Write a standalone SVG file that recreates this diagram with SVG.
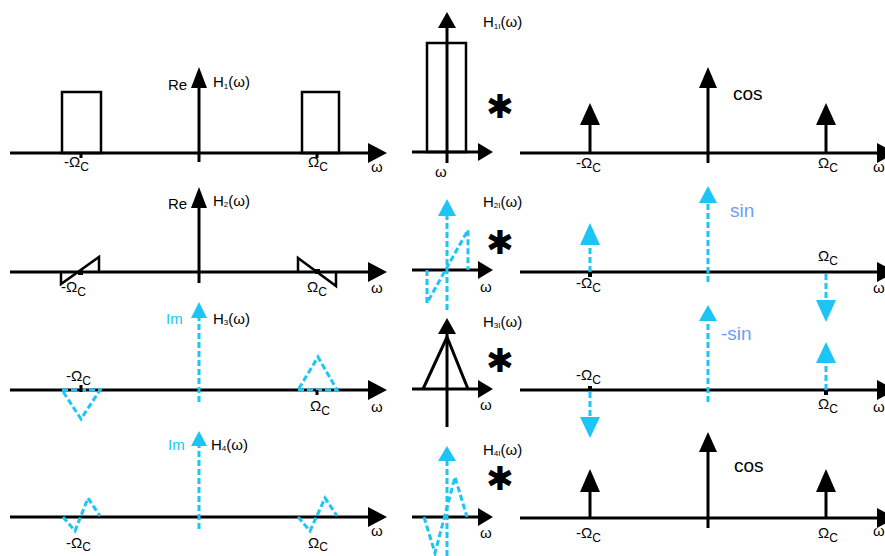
<svg xmlns="http://www.w3.org/2000/svg" width="885" height="556" viewBox="0 0 885 556">
<style>
text{font-family:"Liberation Sans",Arial,sans-serif;fill:#000}
.ax{stroke:#000;stroke-width:3;fill:none}
.bk{fill:#000}
.cy{fill:#1CC5F5}
.dl{stroke:#1CC5F5;stroke-width:3;fill:none;stroke-dasharray:6 3}
.sh{stroke:#000;stroke-width:2.5;fill:none}
.lb{font-size:15px}
.om{font-size:15px}
.sub{font-size:12px}
.w{font-size:15px}
.ast{font-family:"DejaVu Sans",sans-serif;font-size:33px;text-anchor:middle;dominant-baseline:central}
.tr{font-size:19px}
.bl{fill:#6E9EF5}
.ci{fill:#1CC5F5}
</style>
<rect width="885" height="556" fill="#fff"/>

<!-- LEFT COLUMN -->
<g id="H1">
<line class="ax" x1="10" y1="153" x2="372" y2="153"/>
<polygon class="bk" points="368,143 387,153 368,163"/>
<line class="ax" x1="199" y1="162" x2="199" y2="85"/>
<polygon class="bk" points="191,88 199,67 207,88"/>
<rect class="sh" x="62" y="92" width="39" height="61"/>
<rect class="sh" x="302" y="92" width="37" height="61"/>
<line class="ax" x1="81" y1="153" x2="81" y2="158"/>
<line class="ax" x1="317" y1="153" x2="317" y2="158"/>
<text class="lb" x="168" y="90">Re</text>
<text class="lb" x="213" y="87">H<tspan font-size="8" dy="2">1</tspan><tspan dy="-2">(ω)</tspan></text>
<text class="om" x="64" y="167">-Ω<tspan class="sub" dy="4">C</tspan></text>
<text class="om" x="308" y="167">Ω<tspan class="sub" dy="4">C</tspan></text>
<text class="w" x="371" y="172">ω</text>
</g>

<g id="H2">
<line class="ax" x1="10" y1="272" x2="372" y2="272"/>
<polygon class="bk" points="368,262 387,272 368,282"/>
<line class="ax" x1="199" y1="283" x2="199" y2="205"/>
<polygon class="bk" points="191,208 199,187 207,208"/>
<polyline class="sh" points="61,272 61,284 99,257 99,272"/>
<polyline class="sh" points="298,272 298,258 336,286 336,272"/>
<rect class="bk" x="78" y="270" width="5" height="5"/>
<rect class="bk" x="315" y="269" width="5" height="5"/>
<text class="lb" x="168" y="209">Re</text>
<text class="lb" x="213" y="206">H<tspan font-size="8" dy="1">2</tspan><tspan dy="-1">(ω)</tspan></text>
<text class="om" x="61" y="292">-Ω<tspan class="sub" dy="4">C</tspan></text>
<text class="om" x="307" y="292">Ω<tspan class="sub" dy="4">C</tspan></text>
<text class="w" x="371" y="293">ω</text>
</g>

<g id="H3">
<line class="ax" x1="10" y1="390" x2="372" y2="390"/>
<polygon class="bk" points="368,380 387,390 368,400"/>
<line class="dl" x1="199" y1="402" x2="199" y2="316"/>
<polygon class="cy" points="191,318 199,302 207,318"/>
<polygon class="dl" points="62,390 100,390 81,419"/>
<polygon class="dl" points="298,390 337,390 318,357"/>
<line class="ax" x1="81" y1="385" x2="81" y2="392" stroke-width="2"/>
<line class="ax" x1="317" y1="390" x2="317" y2="395" stroke-width="2"/>
<text class="lb ci" x="166" y="324">Im</text>
<text class="lb" x="213" y="324">H<tspan font-size="8" dy="1">3</tspan><tspan dy="-1">(ω)</tspan></text>
<text class="om" x="66" y="381">-Ω<tspan class="sub" dy="4">C</tspan></text>
<text class="om" x="310" y="411">Ω<tspan class="sub" dy="4">C</tspan></text>
<text class="w" x="371" y="412">ω</text>
</g>

<g id="H4">
<line class="ax" x1="10" y1="517" x2="372" y2="517"/>
<polygon class="bk" points="368,507 387,517 368,527"/>
<line class="dl" x1="199" y1="529" x2="199" y2="444"/>
<polygon class="cy" points="191,446 199,431 207,446"/>
<polyline class="dl" points="63,517 75,531 88,498 100,516"/>
<polyline class="dl" points="298,517 310,531 325,498 337,516"/>
<text class="lb ci" x="168" y="450">Im</text>
<text class="lb" x="211" y="450">H<tspan font-size="8" dy="1">4</tspan><tspan dy="-1">(ω)</tspan></text>
<text class="om" x="66" y="548">-Ω<tspan class="sub" dy="3">C</tspan></text>
<text class="om" x="308" y="548">Ω<tspan class="sub" dy="3">C</tspan></text>
<text class="w" x="371" y="536">ω</text>
</g>

<!-- MIDDLE COLUMN -->
<g id="H1I">
<line class="ax" x1="412" y1="152" x2="482" y2="152"/>
<polygon class="bk" points="478,143 493,152 478,161"/>
<line class="ax" x1="447" y1="163" x2="447" y2="26"/>
<polygon class="bk" points="438,28 447,12 456,28"/>
<rect class="sh" x="427" y="43" width="39" height="109"/>
<text class="lb" x="483" y="27">H<tspan font-size="8" dy="2">1I</tspan><tspan dy="-2">(ω)</tspan></text>
<text class="om" x="435" y="177">ω</text>
<text class="ast" x="500" y="106">✱</text>
</g>

<g id="H2I">
<line class="ax" x1="412" y1="270" x2="482" y2="270"/>
<polygon class="bk" points="478,261 493,270 478,279"/>
<line class="dl" x1="447" y1="310" x2="447" y2="214"/>
<polygon class="cy" points="438,216 447,199 456,216"/>
<polyline class="dl" points="427,270 427,303 468,230 468,270"/>
<text class="lb" x="483" y="207">H<tspan font-size="8" dy="1">2I</tspan><tspan dy="-1">(ω)</tspan></text>
<text class="om" x="480" y="292">ω</text>
<text class="ast" x="500" y="242">✱</text>
</g>

<g id="H3I">
<line class="ax" x1="412" y1="389" x2="482" y2="389"/>
<polygon class="bk" points="478,380 493,389 478,398"/>
<line class="ax" x1="447" y1="427" x2="447" y2="332"/>
<polygon class="bk" points="438,334 447,318 456,334"/>
<polyline class="ax" points="423,389 447,337 468,389"/>
<text class="lb" x="483" y="327">H<tspan font-size="8" dy="1">3I</tspan><tspan dy="-1">(ω)</tspan></text>
<text class="om" x="480" y="410">ω</text>
<text class="ast" x="500" y="360">✱</text>
</g>

<g id="H4I">
<line class="ax" x1="412" y1="517" x2="482" y2="517"/>
<polygon class="bk" points="478,508 493,517 478,526"/>
<line class="dl" x1="447" y1="556" x2="447" y2="459"/>
<polygon class="cy" points="438,461 447,446 456,461"/>
<polyline class="dl" points="424,517 435,553 455,477 467,517"/>
<text class="lb" x="483" y="455">H<tspan font-size="8" dy="1">4I</tspan><tspan dy="-1">(ω)</tspan></text>
<text class="om" x="480" y="538">ω</text>
<text class="ast" x="500" y="478">✱</text>
</g>

<!-- RIGHT COLUMN -->
<g id="cos1">
<line class="ax" x1="520" y1="153" x2="880" y2="153"/>
<polygon class="bk" points="877,143 896,153 877,163"/>
<line class="ax" x1="708" y1="163" x2="708" y2="86"/>
<polygon class="bk" points="699,88 708,67 717,88"/>
<line class="ax" x1="590" y1="153" x2="590" y2="123"/>
<polygon class="bk" points="580,125 590,103 600,125"/>
<line class="ax" x1="826" y1="153" x2="826" y2="123"/>
<polygon class="bk" points="816,125 826,103 836,125"/>
<text class="tr" x="733" y="100">cos</text>
<text class="om" x="576" y="168">-Ω<tspan class="sub" dy="4">C</tspan></text>
<text class="om" x="818" y="168">Ω<tspan class="sub" dy="4">C</tspan></text>
<text class="w" x="873" y="172">ω</text>
</g>

<g id="sin">
<line class="ax" x1="520" y1="272" x2="880" y2="272"/>
<polygon class="bk" points="877,262 896,272 877,282"/>
<line class="dl" x1="708" y1="282" x2="708" y2="201"/>
<polygon class="cy" points="699,203 708,186 717,203"/>
<line class="dl" x1="590" y1="272" x2="590" y2="243"/>
<polygon class="cy" points="580,245 590,223 600,245"/>
<line class="dl" x1="826" y1="274" x2="826" y2="301"/>
<polygon class="cy" points="816,300 826,322 836,300"/>
<rect class="bk" x="588" y="272" width="4" height="5"/>
<text class="tr bl" x="730" y="217">sin</text>
<text class="om" x="576" y="288">-Ω<tspan class="sub" dy="4">C</tspan></text>
<text class="om" x="818" y="261">Ω<tspan class="sub" dy="4">C</tspan></text>
<text class="w" x="873" y="293">ω</text>
</g>

<g id="msin">
<line class="ax" x1="520" y1="390" x2="880" y2="390"/>
<polygon class="bk" points="877,380 896,390 877,400"/>
<line class="dl" x1="708" y1="402" x2="708" y2="319"/>
<polygon class="cy" points="699,321 708,305 717,321"/>
<line class="dl" x1="826" y1="390" x2="826" y2="361"/>
<polygon class="cy" points="816,363 826,342 836,363"/>
<line class="dl" x1="590" y1="392" x2="590" y2="418"/>
<polygon class="cy" points="580,417 590,438 600,417"/>
<rect class="bk" x="588" y="386" width="4" height="4"/>
<rect class="bk" x="824" y="390" width="4" height="5"/>
<text class="tr bl" x="721" y="340">-sin</text>
<text class="om" x="576" y="380">-Ω<tspan class="sub" dy="4">C</tspan></text>
<text class="om" x="818" y="409">Ω<tspan class="sub" dy="4">C</tspan></text>
<text class="w" x="873" y="412">ω</text>
</g>

<g id="cos2">
<line class="ax" x1="520" y1="518" x2="880" y2="518"/>
<polygon class="bk" points="877,508 896,518 877,528"/>
<line class="ax" x1="708" y1="528" x2="708" y2="450"/>
<polygon class="bk" points="699,452 708,432 717,452"/>
<line class="ax" x1="590" y1="518" x2="590" y2="490"/>
<polygon class="bk" points="580,492 590,469 600,492"/>
<line class="ax" x1="826" y1="518" x2="826" y2="490"/>
<polygon class="bk" points="816,492 826,469 836,492"/>
<text class="tr" x="734" y="472">cos</text>
<text class="om" x="576" y="538">-Ω<tspan class="sub" dy="4">C</tspan></text>
<text class="om" x="818" y="538">Ω<tspan class="sub" dy="4">C</tspan></text>
<text class="w" x="873" y="536">ω</text>
</g>
</svg>
